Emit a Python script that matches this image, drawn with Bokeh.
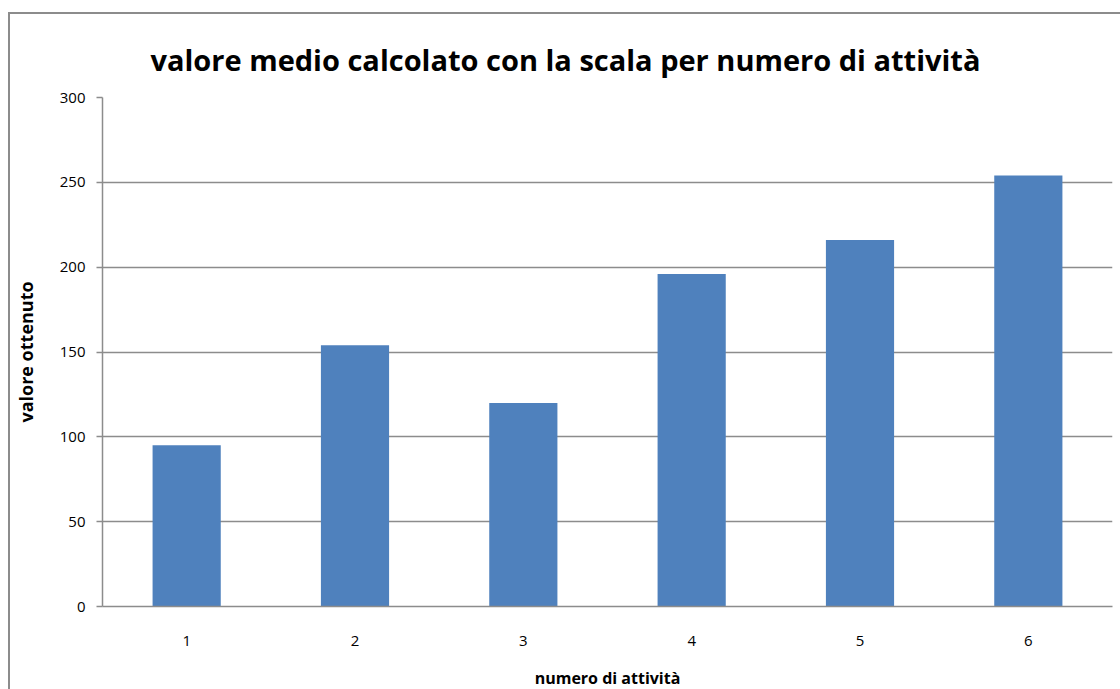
from bokeh.plotting import figure
from bokeh.models import FixedTicker, Range1d
from bokeh.embed import file_html
from bokeh.resources import INLINE

categories = [1, 2, 3, 4, 5, 6]
values = [95, 154, 120, 196, 216, 254]
y_ticks = [0, 50, 100, 150, 200, 250, 300]

title_text = "valore medio calcolato con la scala per numero di attività"
x_label = "numero di attività"
y_label = "valore ottenuto"

FONT = "Open Sans"
GRAY = "#8c8c8c"

p = figure(width=1112, height=685, output_backend="svg", toolbar_location=None,
           x_range=Range1d(0.5, 6.5), y_range=Range1d(0, 300),
           min_border_left=91, min_border_right=10, min_border_top=83, min_border_bottom=93)
p.margin = (12, 0, 0, 8)
p.styles = {"border-left": "2px solid #8c8c8c", "border-top": "2px solid #8c8c8c", "box-sizing": "border-box"}
p.outline_line_color = None
p.background_fill_color = "white"
p.border_fill_color = "white"

p.vbar(x=categories, top=values, width=0.405, color="#4F81BD", line_color=None)

p.xgrid.grid_line_color = None
p.ygrid.grid_line_color = GRAY
p.ygrid.grid_line_width = 1.5
p.ygrid.ticker = FixedTicker(ticks=y_ticks)

p.yaxis.ticker = FixedTicker(ticks=y_ticks)
p.xaxis.ticker = FixedTicker(ticks=categories)

for ax in (p.xaxis[0], p.yaxis[0]):
    ax.axis_line_color = GRAY
    ax.axis_line_width = 1.5
    ax.major_label_text_font = FONT
    ax.major_label_text_font_size = "15px"
    ax.major_label_text_color = "black"
    ax.axis_label_text_font = FONT
    ax.axis_label_text_font_style = "bold"
    ax.axis_label_text_color = "black"
    ax.minor_tick_line_color = None

p.xaxis.major_tick_line_color = None
p.xaxis.major_label_standoff = 23
p.xaxis.axis_label = x_label
p.xaxis.axis_label_text_font_size = "16px"
p.xaxis.axis_label_standoff = 18

p.yaxis.major_tick_line_color = GRAY
p.yaxis.major_tick_line_width = 1.5
p.yaxis.major_tick_out = 6
p.yaxis.major_tick_in = 0
p.yaxis.major_label_standoff = 11
p.yaxis.axis_label = y_label
p.yaxis.axis_label_text_font_size = "18px"
p.yaxis.axis_label_standoff = 19

p.title.text = title_text
p.title.text_font = FONT
p.title.text_font_style = "bold"
p.title.text_font_size = "29px"
p.title.text_color = "black"
p.title.align = "left"
p.title.offset = 48
p.title.standoff = 38

open("out.html", "w").write(file_html(p, INLINE))
